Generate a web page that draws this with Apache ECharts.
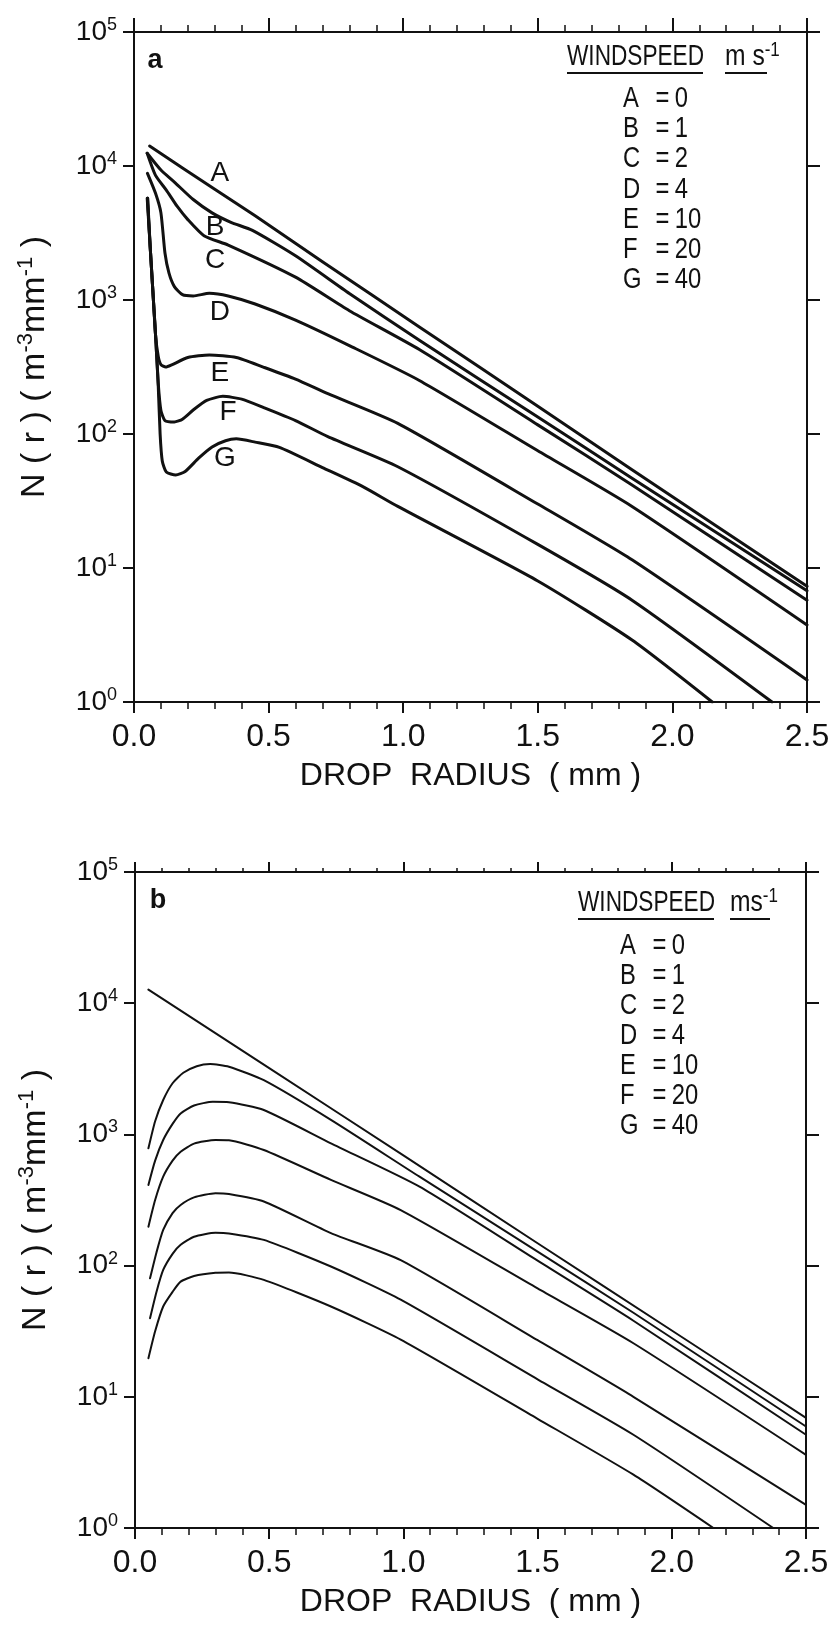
<!DOCTYPE html>
<html><head><meta charset="utf-8">
<script src="https://cdn.jsdelivr.net/npm/echarts@6/dist/echarts.min.js"></script>
<style>html,body{margin:0;padding:0;background:#fff}#c{width:834px;height:1625px}</style>
</head><body><div id="c"></div>
<script>
const FONT = '"Liberation Sans", Arial, sans-serif';
const INK = '#111';

const curveNames = ['A', 'B', 'C', 'D', 'E', 'F', 'G'];
const windspeeds = [0, 1, 2, 4, 10, 20, 40];
const xTicks = [0.0, 0.5, 1.0, 1.5, 2.0, 2.5];
const yTickExponents = [0, 1, 2, 3, 4, 5];

// Panel a: [drop radius (mm), N(r) (m^-3 mm^-1)]
const a_A = [[0.058,14100],[0.3,6700],[0.45,4250],[0.7,1930],[1.06,630],[1.5,161],[1.85,54],[2.5,7.3]];
const a_B = [[0.049,12450],[0.1,9330],[0.15,7590],[0.22,5620],[0.29,4470],[0.36,3800],[0.44,3310],[0.6,2140],[0.8,1120],[1.06,501],[1.5,134],[1.85,46.8],[2.5,6.76]];
const a_C = [[0.049,12450],[0.08,8510],[0.12,6610],[0.16,5010],[0.2,3980],[0.26,3020],[0.35,2570],[0.6,1480],[0.8,832],[1.06,427],[1.5,117],[1.85,41.7],[2.5,5.75]];
const a_D = [[0.05,8810],[0.08,6250],[0.1,4470],[0.115,2240],[0.13,1585],[0.15,1259],[0.18,1096],[0.22,1072],[0.28,1122],[0.35,1072],[0.45,933],[0.6,708],[0.8,457],[1.06,251],[1.5,75],[1.85,28.8],[2.5,3.76]];
const a_E = [[0.049,5750],[0.06,2510],[0.07,1175],[0.08,550],[0.09,380],[0.1,330],[0.118,316],[0.14,328],[0.2,372],[0.28,389],[0.38,372],[0.48,316],[0.6,257],[0.72,200],[0.98,120],[1.5,30],[1.85,11.5],[2.5,1.46]];
const a_F = [[0.05,5750],[0.06,2510],[0.07,1175],[0.08,550],[0.09,240],[0.1,150],[0.115,126],[0.15,123],[0.18,129],[0.22,151],[0.27,178],[0.33,191],[0.4,182],[0.48,158],[0.6,126],[0.72,95.5],[0.98,57],[1.5,15],[1.85,5.75],[2.37,1]];
const a_G = [[0.051,5750],[0.06,2510],[0.07,1175],[0.08,550],[0.09,230],[0.097,100],[0.105,63],[0.12,52],[0.155,49.5],[0.19,52.5],[0.24,66],[0.29,80],[0.34,89],[0.38,92],[0.45,87],[0.54,79.4],[0.7,56.2],[0.85,40.5],[0.98,28.8],[1.5,8],[1.85,2.9],[2.148,1]];

// Panel a curve-label anchor positions (data space)
const a_labelR = [0.319, 0.301, 0.301, 0.319, 0.319, 0.349, 0.338];
const a_labelN = [8870, 3510, 1990, 813, 285, 144, 66];

// Panel b
const b_A = [[0.05,12700],[0.5,3200],[1.0,692],[1.5,148],[2.0,32],[2.5,6.9]];
const b_B = [[0.05,783],[0.075,1259],[0.105,1830],[0.14,2455],[0.18,2950],[0.23,3310],[0.28,3440],[0.35,3280],[0.48,2590],[0.73,1290],[1.06,476],[1.5,128],[1.857,43.7],[2.5,5.94]];
const b_C = [[0.05,412],[0.075,631],[0.105,906],[0.14,1202],[0.17,1445],[0.22,1660],[0.29,1775],[0.35,1760],[0.48,1535],[0.73,855],[1.06,400],[1.5,109],[1.857,38],[2.5,5.14]];
const b_D = [[0.05,198],[0.075,316],[0.105,476],[0.14,631],[0.17,738],[0.22,851],[0.3,906],[0.35,902],[0.48,760],[0.73,450],[0.99,265],[1.5,67],[1.857,25.6],[2.5,3.61]];
const b_E = [[0.056,80],[0.08,126],[0.105,187],[0.14,251],[0.17,290],[0.22,331],[0.3,356],[0.35,351],[0.48,308],[0.73,177],[0.99,110],[1.5,27],[1.857,10],[2.5,1.5]];
const b_F = [[0.056,39.7],[0.08,63],[0.105,92.7],[0.14,123],[0.17,144],[0.22,166],[0.3,178],[0.35,176],[0.48,157],[0.73,98.4],[0.99,55],[1.5,13.6],[1.857,5.14],[2.378,1]];
const b_G = [[0.05,19.7],[0.075,31.6],[0.105,48.8],[0.14,63.1],[0.17,75.5],[0.22,83.2],[0.3,88.1],[0.35,88.5],[0.48,77.8],[0.73,48.8],[0.99,27.3],[1.5,6.8],[1.857,2.55],[2.155,1]];

const panelA = [a_A, a_B, a_C, a_D, a_E, a_F, a_G];
const panelB = [b_A, b_B, b_C, b_D, b_E, b_F, b_G];

const chart = echarts.init(document.getElementById('c'), null, {renderer: 'canvas'});

const grids = [
  {left: 134, top: 32, width: 673, height: 670},
  {left: 135, top: 872, width: 671, height: 656}
];

const xAxes = [], yAxes = [];
grids.forEach((g, i) => {
  const axLine = {show: true, onZero: false, lineStyle: {color: INK, width: 2}};
  xAxes.push({
    type: 'value', gridIndex: i, position: 'bottom', min: 0, max: 2.5, interval: 0.5,
    axisLine: axLine,
    axisTick: {show: true, length: 11, lineStyle: {color: INK, width: 2}},
    minorTick: {show: true, splitNumber: 5, length: 7, lineStyle: {color: INK, width: 1.5}},
    splitLine: {show: false}, minorSplitLine: {show: false},
    axisLabel: {show: true, margin: 19, color: INK, fontFamily: FONT, fontSize: 32,
      formatter: v => { const t = xTicks.find(k => Math.abs(k - v) < 1e-6); return t === undefined ? '' : t.toFixed(1); }},
    name: 'DROP  RADIUS  ( mm )', nameLocation: 'middle', nameGap: 58,
    nameTextStyle: {color: INK, fontFamily: FONT, fontSize: 32}
  });
  xAxes.push({
    type: 'value', gridIndex: i, position: 'top', min: 0, max: 2.5, interval: 0.5,
    axisLine: axLine,
    axisTick: {show: true, length: i === 0 ? 14 : 10, lineStyle: {color: INK, width: 2}},
    minorTick: {show: true, splitNumber: 5, length: i === 0 ? 7 : 4, lineStyle: {color: INK, width: 1.5}},
    splitLine: {show: false}, axisLabel: {show: false}
  });
  yAxes.push({
    type: 'log', logBase: 10, gridIndex: i, position: 'left', min: 1, max: 100000,
    axisLine: axLine,
    axisTick: {show: true, length: 11, lineStyle: {color: INK, width: 2}},
    minorTick: {show: false}, splitLine: {show: false},
    axisLabel: {show: true, margin: 17, color: INK,
      formatter: v => { const e = Math.round(Math.log10(v)); return yTickExponents.includes(e) ? '{b|10}{s|' + e + '}' : ''; },
      rich: {
        b: {fontFamily: FONT, fontSize: 28, lineHeight: 32, color: INK, verticalAlign: 'middle'},
        s: {fontFamily: FONT, fontSize: 18, lineHeight: 16, color: INK, verticalAlign: 'top'}
      }},
    name: '{t|N ( r ) ( m}{s|-3}{t|mm}{s|-1}{t| )}', nameLocation: 'middle', nameGap: 79,
    nameTextStyle: {
      rich: {
        t: {fontFamily: FONT, fontSize: 34, lineHeight: 40, color: INK, verticalAlign: 'middle'},
        s: {fontFamily: FONT, fontSize: 22, lineHeight: 21, color: INK, verticalAlign: 'top'}
      }
    }
  });
  yAxes.push({
    type: 'log', logBase: 10, gridIndex: i, position: 'right', min: 1, max: 100000,
    axisLine: axLine,
    axisTick: {show: true, length: 13, lineStyle: {color: INK, width: 2}},
    minorTick: {show: false}, splitLine: {show: false}, axisLabel: {show: false}
  });
});

const series = [];
[panelA, panelB].forEach((curves, p) => {
  curves.forEach((d, k) => {
    const s = {
      type: 'line', name: (p === 0 ? 'a-' : 'b-') + curveNames[k],
      xAxisIndex: 2 * p, yAxisIndex: 2 * p,
      data: d, showSymbol: false, symbol: 'none',
      smooth: 0.2,
      lineStyle: {color: INK, width: p === 0 ? 3 : 2, join: 'round', cap: 'round'},
      silent: true, animation: false, z: 3
    };
    if (p === 0) {
      s.markPoint = {
        symbol: 'circle', symbolSize: 1, silent: true, animation: false,
        itemStyle: {color: 'rgba(0,0,0,0)'},
        label: {show: true, position: 'inside', color: INK, fontFamily: FONT, fontSize: 28,
          formatter: curveNames[k]},
        data: [{coord: [a_labelR[k], a_labelN[k]]}]
      };
    }
    series.push(s);
  });
});

// Legend blocks (text, horizontally condensed to mimic the original lettering)
const graphics = [];
function legendBlock(x0, yHead, unitX, unitText, underlineY, unitUnderline, yEntry0, step, entryX) {
  graphics.push({type: 'text', x: x0, y: yHead, scaleX: 0.78, style: {text: 'WINDSPEED', fill: INK,
    font: '29px ' + FONT, align: 'left', verticalAlign: 'middle'}});
  graphics.push({type: 'text', x: unitX, y: yHead, scaleX: 0.85, style: {text: unitText, align: 'left', verticalAlign: 'middle',
    rich: {
      t: {fontFamily: FONT, fontSize: 29, lineHeight: 34, fill: INK, verticalAlign: 'middle'},
      s: {fontFamily: FONT, fontSize: 20, lineHeight: 16, fill: INK, verticalAlign: 'top'}
    }}});
  graphics.push({type: 'line', shape: {x1: x0, y1: underlineY, x2: x0 + 136, y2: underlineY},
    style: {stroke: INK, lineWidth: 2}});
  graphics.push({type: 'line', shape: {x1: unitX, y1: underlineY, x2: unitX + unitUnderline, y2: underlineY},
    style: {stroke: INK, lineWidth: 2}});
  curveNames.forEach((n, i) => {
    graphics.push({type: 'text', x: entryX, y: yEntry0 + step * i, scaleX: 0.82, style: {
      text: '{l|' + n + '}{e|=}{v|' + windspeeds[i] + '}', align: 'left', verticalAlign: 'middle',
      rich: {
        l: {fontFamily: FONT, fontSize: 29, fill: INK, width: 33, align: 'left'},
        e: {fontFamily: FONT, fontSize: 29, fill: INK, width: 30, align: 'center'},
        v: {fontFamily: FONT, fontSize: 29, fill: INK}
      }}});
  });
}
legendBlock(567, 57, 725, '{t|m s}{s|-1}', 73, 42, 99, 30.2, 623);
legendBlock(578, 903, 730, '{t|ms}{s|-1}', 919, 40, 946, 30, 620);

graphics.push({type: 'text', x: 155, y: 61, style: {text: 'a', fill: INK,
  font: 'bold 27px "Liberation Sans", sans-serif', align: 'center', verticalAlign: 'middle'}});
graphics.push({type: 'text', x: 158, y: 901, style: {text: 'b', fill: INK,
  font: 'bold 27px "Liberation Sans", sans-serif', align: 'center', verticalAlign: 'middle'}});

chart.setOption({
  animation: false,
  backgroundColor: '#fff',
  grid: grids,
  xAxis: xAxes,
  yAxis: yAxes,
  series: series,
  graphic: graphics
});
</script>
</body></html>
